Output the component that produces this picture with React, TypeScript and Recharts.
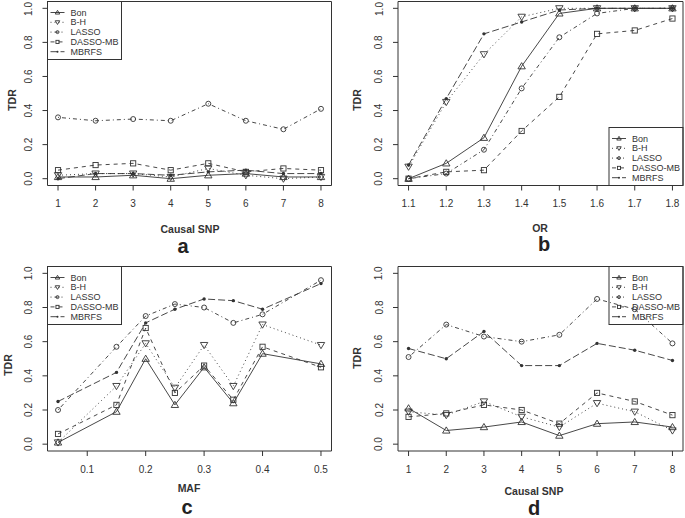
import React from 'react';
import { LineChart, Line, XAxis, YAxis, ReferenceArea } from 'recharts';

const INK = '#333';
const FONT = '"Liberation Sans", Arial, sans-serif';

const snpX = [1, 2, 3, 4, 5, 6, 7, 8];
const orX = [1.1, 1.2, 1.3, 1.4, 1.5, 1.6, 1.7, 1.8];
const mafX = [0.05, 0.15, 0.2, 0.25, 0.3, 0.35, 0.4, 0.5];
const mafTicks = [0.1, 0.2, 0.3, 0.4, 0.5];
const yTicks = [0, 0.2, 0.4, 0.6, 0.8, 1];

// a: TDR vs causal SNP
const aBon = [0.01, 0.01, 0.02, 0.0, 0.02, 0.03, 0.01, 0.01];
const aBH = [0.02, 0.03, 0.03, 0.01, 0.06, 0.02, 0.0, 0.01];
const aLasso = [0.36, 0.34, 0.35, 0.34, 0.44, 0.34, 0.29, 0.41];
const aDasso = [0.05, 0.08, 0.09, 0.05, 0.09, 0.04, 0.06, 0.05];
const aMbrfs = [0.0, 0.03, 0.03, 0.02, 0.04, 0.05, 0.03, 0.03];

// b: TDR vs OR
const bBon = [0.0, 0.09, 0.24, 0.66, 0.97, 1.0, 1.0, 1.0];
const bBH = [0.07, 0.45, 0.73, 0.95, 1.0, 1.0, 1.0, 1.0];
const bLasso = [0.0, 0.03, 0.17, 0.53, 0.83, 0.97, 1.0, 1.0];
const bDasso = [0.0, 0.04, 0.05, 0.28, 0.48, 0.85, 0.87, 0.94];
const bMbrfs = [0.08, 0.47, 0.85, 0.92, 0.99, 1.0, 1.0, 1.0];

// c: TDR vs MAF
const cBon = [0.01, 0.19, 0.5, 0.23, 0.45, 0.24, 0.53, 0.47];
const cBH = [0.01, 0.34, 0.59, 0.33, 0.58, 0.34, 0.7, 0.58];
const cLasso = [0.2, 0.57, 0.75, 0.82, 0.8, 0.71, 0.76, 0.96];
const cDasso = [0.06, 0.23, 0.68, 0.3, 0.46, 0.26, 0.57, 0.45];
const cMbrfs = [0.25, 0.42, 0.71, 0.79, 0.85, 0.84, 0.79, 0.94];

// d: TDR vs causal SNP
const dBon = [0.21, 0.08, 0.1, 0.13, 0.05, 0.12, 0.13, 0.1];
const dBH = [0.19, 0.17, 0.25, 0.16, 0.1, 0.24, 0.19, 0.08];
const dLasso = [0.51, 0.7, 0.63, 0.6, 0.64, 0.85, 0.79, 0.59];
const dDasso = [0.16, 0.18, 0.23, 0.2, 0.12, 0.3, 0.25, 0.17];
const dMbrfs = [0.56, 0.5, 0.66, 0.46, 0.46, 0.59, 0.55, 0.49];

const methods = [
  { key: 'bon', name: 'Bon', dash: undefined, shape: 'up' },
  { key: 'bh', name: 'B-H', dash: '1 3', shape: 'down' },
  { key: 'lasso', name: 'LASSO', dash: '1 3 4 3', shape: 'circle' },
  { key: 'dasso', name: 'DASSO-MB', dash: '4 4', shape: 'square' },
  { key: 'mbrfs', name: 'MBRFS', dash: '7 3', shape: 'dot' },
];

const toRows = (xs: number[], s: number[][]) =>
  xs.map((x, i) => ({ x, bon: s[0][i], bh: s[1][i], lasso: s[2][i], dasso: s[3][i], mbrfs: s[4][i] }));

function marker(shape: string, cx: number, cy: number, k = 1, key?: string) {
  if (cx == null || cy == null) return <g key={key} />;
  switch (shape) {
    case 'up': {
      const w = 3.7 * k, t = 3.6 * k, b = 2.6 * k;
      return <path key={key} d={`M${cx},${cy - t}L${cx + w},${cy + b}L${cx - w},${cy + b}Z`} fill="none" stroke={INK} strokeWidth={0.9} />;
    }
    case 'down': {
      const w = 3.7 * k, t = 3.6 * k, b = 2.6 * k;
      return <path key={key} d={`M${cx},${cy + t}L${cx + w},${cy - b}L${cx - w},${cy - b}Z`} fill="none" stroke={INK} strokeWidth={0.9} />;
    }
    case 'circle':
      return <circle key={key} cx={cx} cy={cy} r={2.5 * k} fill="none" stroke={INK} strokeWidth={0.9} />;
    case 'square': {
      const h = 2.6 * k;
      return <rect key={key} x={cx - h} y={cy - h} width={2 * h} height={2 * h} fill="none" stroke={INK} strokeWidth={0.9} />;
    }
    default:
      return <circle key={key} cx={cx} cy={cy} r={1.7 * k} fill={INK} />;
  }
}

type Spec = {
  left: number; top: number; width: number; height: number;
  plot: { l: number; r: number; t: number; b: number };
  data: any[]; xDomain: [number, number]; xTicks: number[]; fmt: (v: number) => string;
  xTitle: string; xTitlePos: [number, number];
  letter: string; letterPos: [number, number];
  tdrPos: [number, number];
  legendAt: 'tl' | 'br' | 'tr';
};

const Panel = ({ s }: { s: Spec }) => {
  const { plot } = s;
  const lw = 74, lh = 58;
  const lx = s.legendAt === 'tl' ? plot.l : plot.r - lw;
  const ly = s.legendAt === 'br' ? plot.b - lh : plot.t;
  return (
    <div style={{ position: 'absolute', left: s.left, top: s.top, width: s.width, height: s.height }}>
      <LineChart width={s.width} height={s.height} data={s.data}
        margin={{ top: plot.t, right: s.width - plot.r, bottom: 0, left: 0 }}>
        <XAxis type="number" dataKey="x" domain={s.xDomain} ticks={s.xTicks} allowDataOverflow
          height={s.height - plot.b} axisLine={false} tickLine={{ stroke: INK }} tickSize={5} tickMargin={13}
          tick={(p: any) => (
            <text x={p.x} y={p.y} textAnchor="middle" dominantBaseline="central" fontSize={10} fill={INK} fontFamily={FONT}>
              {s.fmt(p.payload.value)}
            </text>
          )} />
        <YAxis type="number" domain={[-0.04, 1.04]} ticks={yTicks} allowDataOverflow width={plot.l}
          axisLine={false} tickLine={{ stroke: INK }} tickSize={5} tickMargin={14}
          tick={(p: any) => (
            <text x={p.x} y={p.y} transform={`rotate(-90 ${p.x} ${p.y})`} textAnchor="middle" dominantBaseline="central"
              fontSize={10} fill={INK} fontFamily={FONT}>
              {p.payload.value.toFixed(1)}
            </text>
          )} />
        <ReferenceArea x1={s.xDomain[0]} x2={s.xDomain[1]} y1={-0.04} y2={1.04} fill="none" stroke={INK} strokeWidth={1} ifOverflow="visible" />
        {methods.map(m => (
          <Line key={m.key} dataKey={m.key} stroke={INK} strokeWidth={0.9} strokeDasharray={m.dash}
            isAnimationActive={false}
            dot={(p: any) => marker(m.shape, p.cx, p.cy, 1, `${m.key}-${p.index}`)} activeDot={false} />
        ))}
      </LineChart>
      <svg width={s.width} height={s.height} style={{ position: 'absolute', left: 0, top: 0, pointerEvents: 'none' }}
        fontFamily={FONT}>
        <text x={s.xTitlePos[0]} y={s.xTitlePos[1]} textAnchor="middle" dominantBaseline="central" fontSize={10.5}
          fontWeight="bold" fill={INK}>{s.xTitle}</text>
        <text x={s.tdrPos[0]} y={s.tdrPos[1]} transform={`rotate(-90 ${s.tdrPos[0]} ${s.tdrPos[1]})`} textAnchor="middle"
          dominantBaseline="central" fontSize={10.5} fontWeight="bold" fill={INK}>TDR</text>
        <text x={s.letterPos[0]} y={s.letterPos[1]} textAnchor="middle" fontSize={20} fontWeight="bold" fill="#222">{s.letter}</text>
        <rect x={lx} y={ly} width={lw} height={lh} fill="none" stroke={INK} strokeWidth={1} />
        {methods.map((m, i) => {
          const y = ly + 11 + i * 9.8;
          return (
            <g key={m.key}>
              <line x1={lx + 3} x2={lx + 17} y1={y} y2={y} stroke={INK} strokeWidth={0.9} strokeDasharray={m.dash} />
              {marker(m.shape, lx + 10, y, 0.6)}
              <text x={lx + 23} y={y} dominantBaseline="central" fontSize={9} fill={INK}>{m.name}</text>
            </g>
          );
        })}
      </svg>
    </div>
  );
};

const fmtInt = (v: number) => String(v);
const fmt1 = (v: number) => v.toFixed(1);

const panels: Spec[] = [
  {
    left: 0, top: 0, width: 340, height: 258, plot: { l: 47.5, r: 331.5, t: 1.5, b: 185.5 },
    data: toRows(snpX, [aBon, aBH, aLasso, aDasso, aMbrfs]), xDomain: [0.72, 8.28], xTicks: snpX, fmt: fmtInt,
    xTitle: 'Causal SNP', xTitlePos: [190, 229], letter: 'a', letterPos: [183, 253], tdrPos: [12, 100], legendAt: 'tl',
  },
  {
    left: 340, top: 0, width: 345, height: 258, plot: { l: 58, r: 343, t: 1.5, b: 185.5 },
    data: toRows(orX, [bBon, bBH, bLasso, bDasso, bMbrfs]), xDomain: [1.072, 1.828], xTicks: orX, fmt: fmt1,
    xTitle: 'OR', xTitlePos: [200, 228], letter: 'b', letterPos: [204, 251], tdrPos: [17, 100], legendAt: 'br',
  },
  {
    left: 0, top: 258, width: 340, height: 260, plot: { l: 47.5, r: 331.5, t: 8.5, b: 193 },
    data: toRows(mafX, [cBon, cBH, cLasso, cDasso, cMbrfs]), xDomain: [0.032, 0.518], xTicks: mafTicks, fmt: fmt1,
    xTitle: 'MAF', xTitlePos: [189, 230], letter: 'c', letterPos: [187, 256], tdrPos: [8, 107], legendAt: 'tl',
  },
  {
    left: 340, top: 258, width: 345, height: 260, plot: { l: 58, r: 343, t: 8.5, b: 193 },
    data: toRows(snpX, [dBon, dBH, dLasso, dDasso, dMbrfs]), xDomain: [0.72, 8.28], xTicks: snpX, fmt: fmtInt,
    xTitle: 'Causal SNP', xTitlePos: [194, 233], letter: 'd', letterPos: [194, 257], tdrPos: [17, 100], legendAt: 'tr',
  },
];

export default function App() {
  return (
    <div style={{ position: 'absolute', left: 0, top: 0, width: 685, height: 518, background: '#fff', overflow: 'hidden' }}>
      {panels.map((p, i) => <Panel key={i} s={p} />)}
    </div>
  );
}
